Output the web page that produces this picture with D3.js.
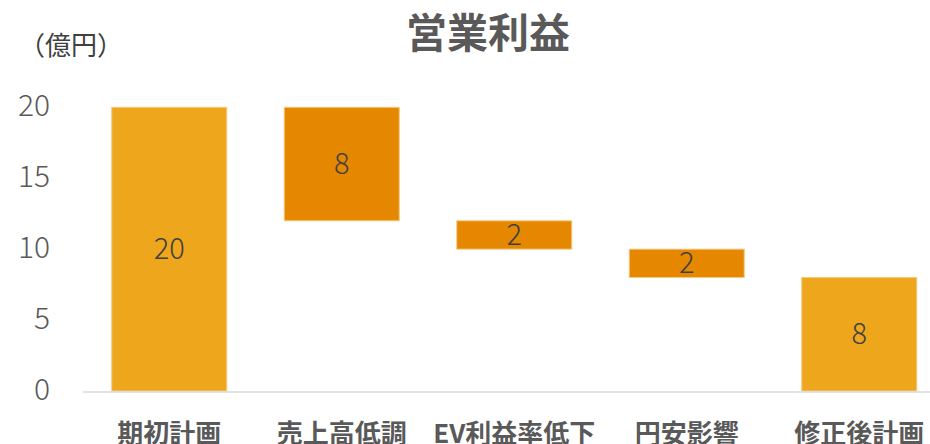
<!DOCTYPE html>
<html>
<head>
<meta charset="utf-8">
<script src="https://cdn.jsdelivr.net/npm/d3@7"></script>
<style>
  body { margin: 0; background: #fff; }
  svg { display: block; font-family: "Noto Sans CJK JP", "Noto Sans", sans-serif; }
</style>
</head>
<body>
<div id="chart"></div>
<script>
// data
var categories = ["期初計画", "売上高低調", "EV利益率低下", "円安影響", "修正後計画"];
var values = [20, -8, -2, -2, 8];
var isTotal = [true, false, false, false, true];
var yTicks = [0, 5, 10, 15, 20];

var width = 930, height = 444;

// build waterfall segments
var bars = [];
var running = 0;
categories.forEach(function(c, i) {
  var v = values[i], lo, hi;
  if (isTotal[i]) { lo = 0; hi = v; running = v; }
  else { lo = Math.min(running, running + v); hi = Math.max(running, running + v); running += v; }
  bars.push({cat: c, lo: lo, hi: hi, label: Math.abs(v), total: isTotal[i]});
});

var svg = d3.select("#chart").append("svg")
  .attr("width", width)
  .attr("height", height);

var x = d3.scaleBand()
  .domain(categories)
  .range([83, 945.5])
  .paddingInner(1/3)
  .paddingOuter(1/6);

var y = d3.scaleLinear()
  .domain([0, 20])
  .range([391, 107.3]);

// y tick labels (no axis line)
svg.append("g").selectAll("text")
  .data(yTicks)
  .enter().append("text")
    .attr("x", 50)
    .attr("y", function(d) { return y(d); })
    .attr("dy", "0.3em")
    .attr("text-anchor", "end")
    .attr("font-size", 30)
    .attr("font-weight", 300)
    .attr("fill", "#595959")
    .text(function(d) { return d; });

// bars
svg.append("g").selectAll("rect")
  .data(bars)
  .enter().append("rect")
    .attr("x", function(d) { return x(d.cat); })
    .attr("y", function(d) { return y(d.hi); })
    .attr("width", x.bandwidth())
    .attr("height", function(d) { return y(d.lo) - y(d.hi); })
    .attr("fill", function(d) { return d.total ? "#EEA71D" : "#E58800"; })
    .attr("stroke", "#F6C983")
    .attr("stroke-width", 1);

// bottom axis line
svg.append("line")
  .attr("x1", 83).attr("x2", width)
  .attr("y1", 392).attr("y2", 392)
  .attr("stroke", "#D9D9D9")
  .attr("stroke-width", 1.5);

// data labels
svg.append("g").selectAll("text")
  .data(bars)
  .enter().append("text")
    .attr("x", function(d) { return x(d.cat) + x.bandwidth() / 2; })
    .attr("y", function(d) { return (y(d.lo) + y(d.hi)) / 2; })
    .attr("dy", "0.35em")
    .attr("text-anchor", "middle")
    .attr("font-size", 29)
    .attr("font-weight", 300)
    .attr("fill", "#404040")
    .text(function(d) { return d.label; });

// category labels
svg.append("g").selectAll("text")
  .data(categories)
  .enter().append("text")
    .attr("x", function(d) { return x(d) + x.bandwidth() / 2; })
    .attr("y", 443)
    .attr("text-anchor", "middle")
    .attr("font-size", 26)
    .attr("font-weight", "bold")
    .attr("fill", "#595959")
    .text(function(d) { return d; });

// title
svg.append("text")
  .attr("x", 488)
  .attr("y", 48)
  .attr("text-anchor", "middle")
  .attr("font-size", 41)
  .attr("font-weight", "bold")
  .attr("fill", "#595959")
  .text("営業利益");

// unit
svg.append("text")
  .attr("x", 19)
  .attr("y", 55)
  .attr("font-size", 26)
  .attr("fill", "#404040")
  .text("（億円）");
</script>
</body>
</html>
